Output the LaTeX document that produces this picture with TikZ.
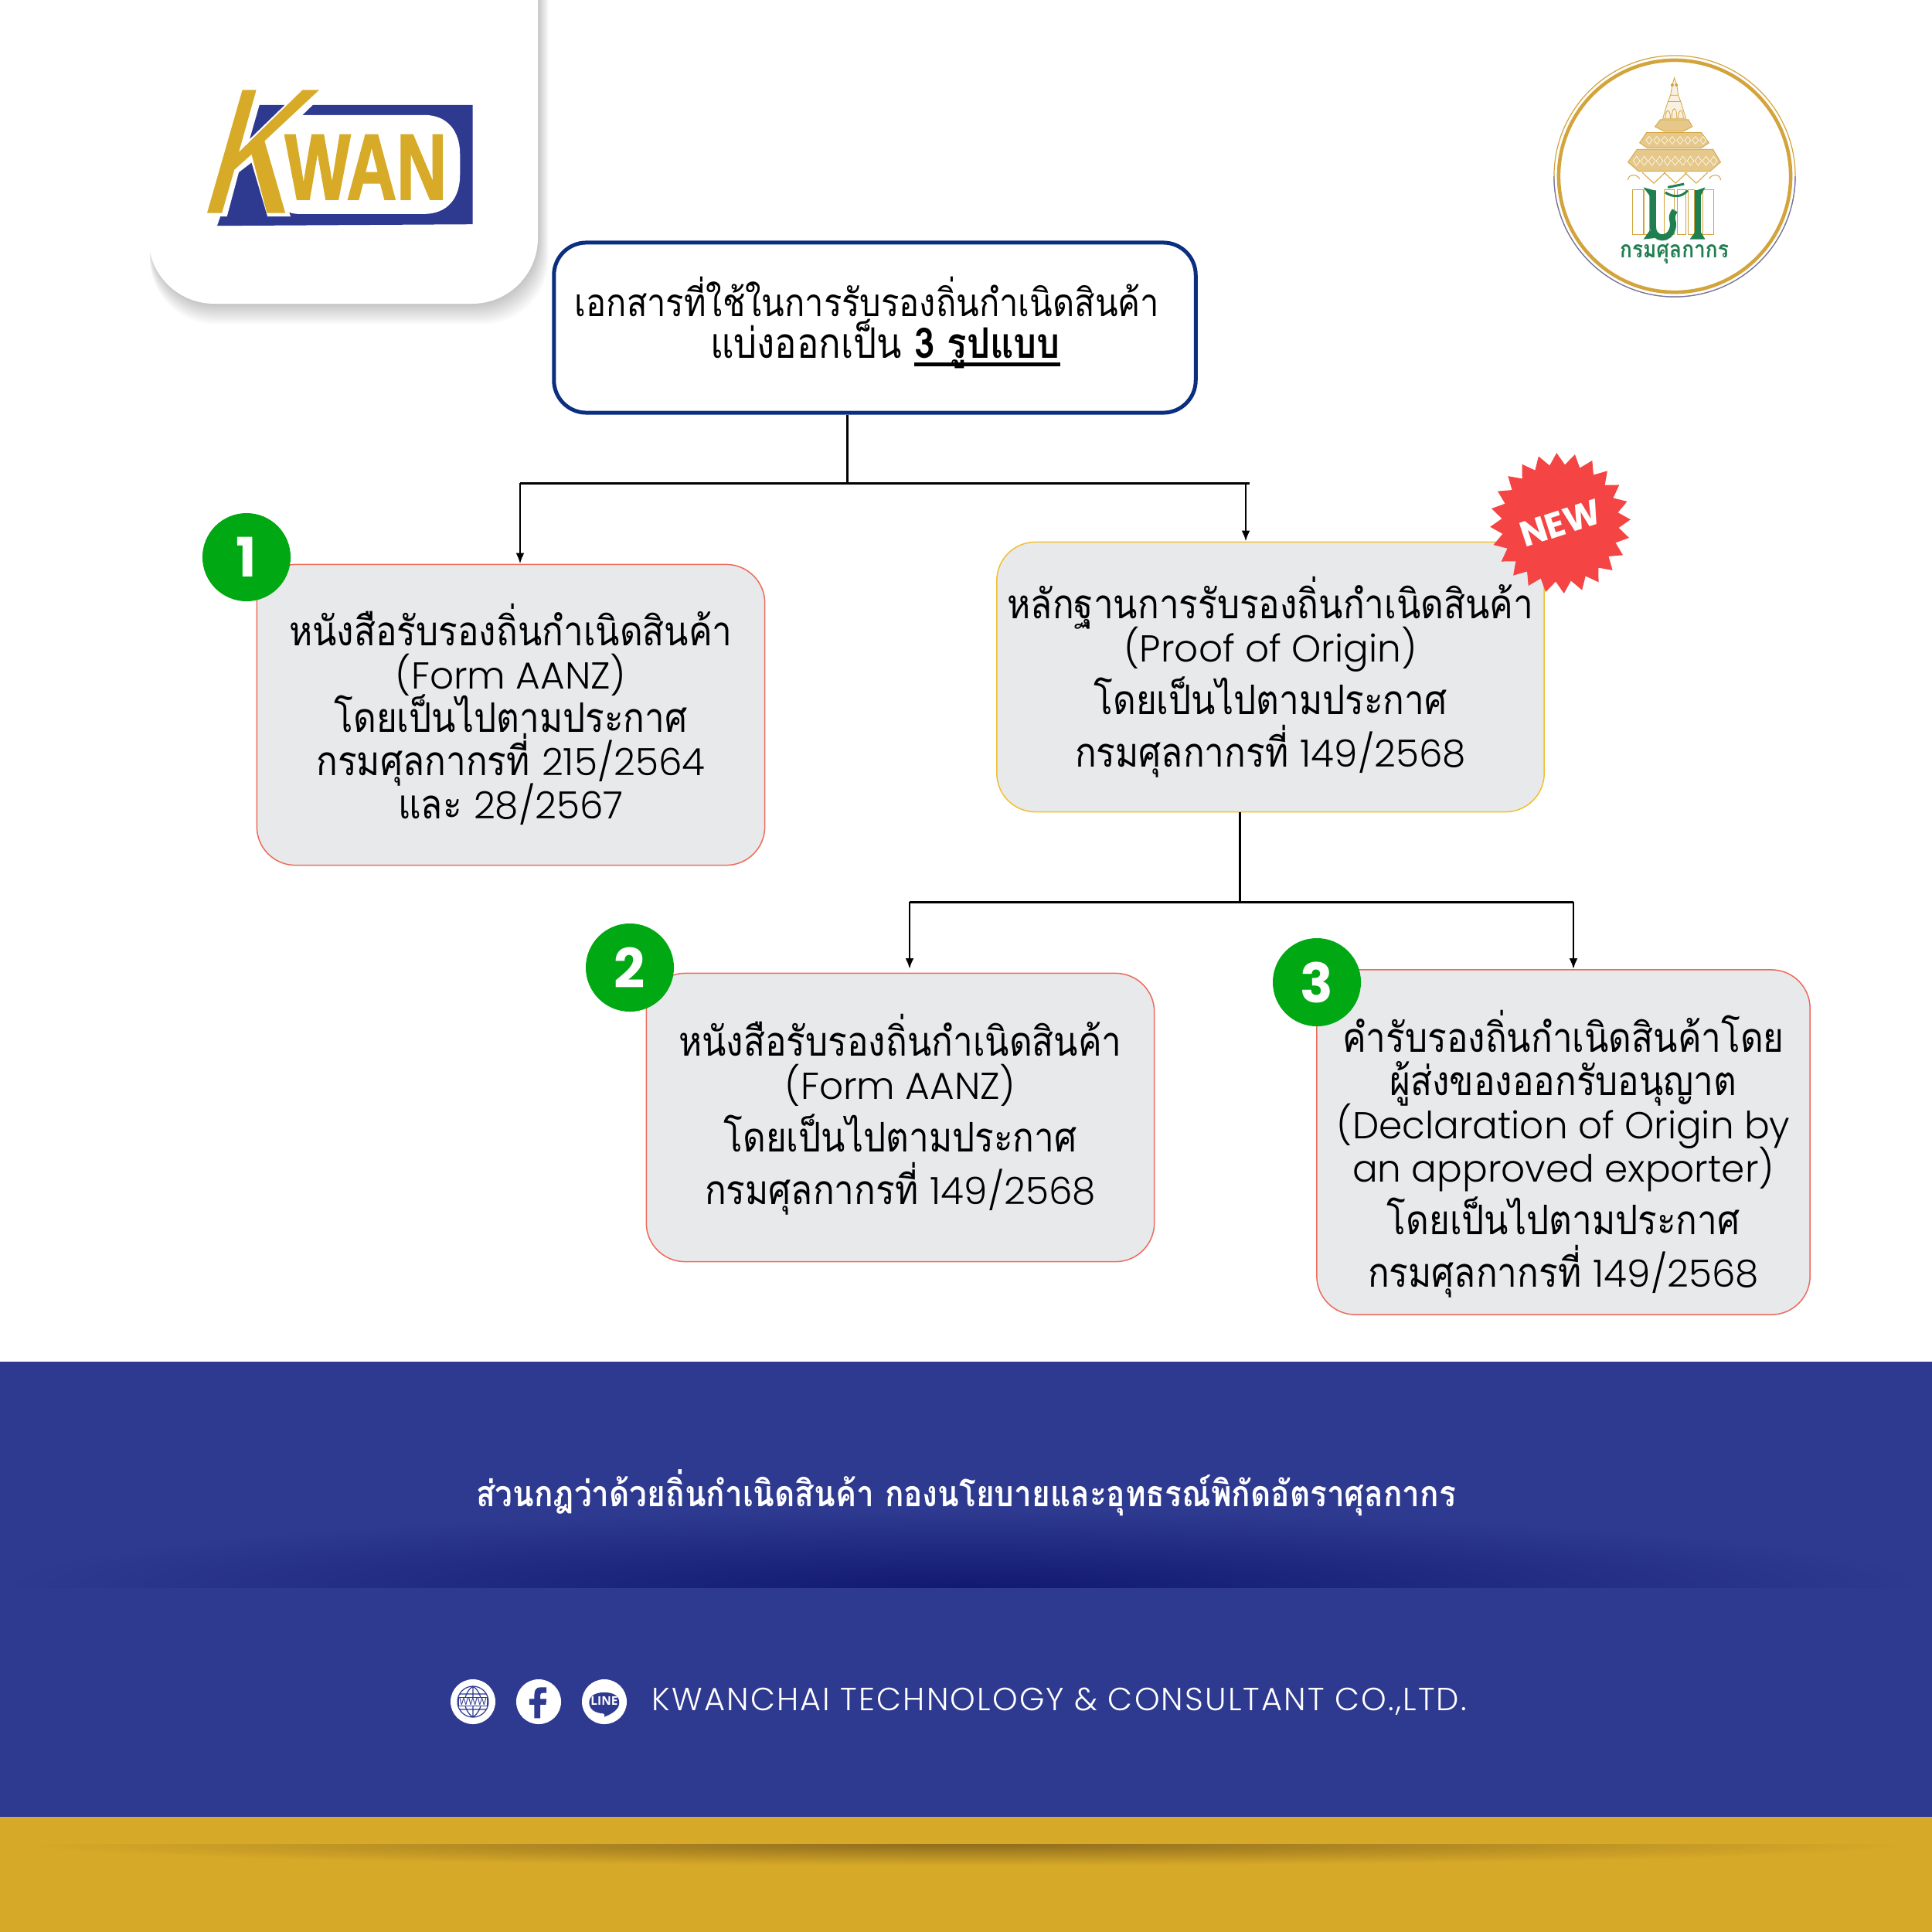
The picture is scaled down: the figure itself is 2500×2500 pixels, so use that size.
\documentclass[tikz,border=0pt]{standalone}
\usepackage{fontspec}
\setmainfont[Script=Thai,FakeStretch=.87]{Loma}
\newfontfamily\latinfont{Open Sans}
\newfontfamily\badgefont{Poppins}
\newfontfamily\engfont{Poppins Light}
\newfontfamily\footfont[LetterSpace=5.2]{Poppins Light}
\newfontfamily\logofont[FakeStretch=.74,FakeBold=1.5]{Liberation Sans}
\usetikzlibrary{arrows.meta,shapes.geometric}
\definecolor{footerblue}{HTML}{2E3990}
\definecolor{footerdark}{HTML}{111A70}
\definecolor{goldband}{HTML}{D7A928}
\definecolor{golddark}{HTML}{8F6C1E}
\definecolor{logogold}{HTML}{D7AB28}
\definecolor{titlenavy}{HTML}{0B2F80}
\definecolor{boxgray}{HTML}{E8E9EB}
\definecolor{boxred}{HTML}{EE6A5C}
\definecolor{boxyellow}{HTML}{F0C030}
\definecolor{numgreen}{HTML}{00A914}
\definecolor{badgered}{HTML}{F44444}
\definecolor{sealgold}{HTML}{D3A33C}
\definecolor{sealgreen}{HTML}{1F7F50}
\newcommand{\boxfont}{\fontsize{15}{15.9}\selectfont\lineskiplimit=-20pt}
\newcommand{\titlefont}{\fontsize{14.2}{15.4}\selectfont\lineskiplimit=-20pt}
\newcommand{\eng}[1]{{\engfont\fontsize{13.8}{15.9}\selectfont #1}}
\newcommand{\titleline}[1]{\setbox0\hbox{#1}\rlap{\rule[-.19em]{\wd0}{.09em}}\box0}
\begin{document}
\begin{tikzpicture}[x=.01cm,y=-.01cm,
  infobox/.style={draw=boxred,line width=.015cm,fill=boxgray,rounded corners=.5cm,align=center,font=\boxfont,inner sep=0pt},
  numdot/.style={circle,fill=numgreen,text=white,minimum size=1.14cm,inner sep=0pt,font=\badgefont\bfseries\fontsize{20}{20}\selectfont},
  mainline/.style={line width=.03cm},
  downline/.style={line width=.028cm,-{Latex[length=.14cm,width=.11cm]}},
  icondot/.style={circle,fill=white,minimum size=.58cm,inner sep=0pt}]
\useasboundingbox (0,0) rectangle (2500,2500);
\fill[white] (0,0) rectangle (2500,2500);
% logo card
\foreach \s in {1,...,14} \fill[black,opacity=.016,rounded corners=.85cm] (194,-150) rectangle ({696+1*\s},{393+1.9*\s});
\fill[white,rounded corners=.85cm] (192,-150) rectangle (696,393);
\begin{scope}[shift={(150,0)},x=.003827cm,y=-.003333cm]
\fill[footerblue] (485,408)--(1205,408)--(1205,872)--(342,878)--cycle;
\fill[white] (375,842)--(415,670)--(458,632)--(512,842)--(590,842)--(585,825) .. controls (600,832) and (610,832) .. (625,832)--(1040,832) .. controls (1120,832) and (1162,770) .. (1162,680)--(1162,600) .. controls (1162,510) and (1120,447) .. (1040,447)--(630,447)--(665,408)--(665,340)--(300,340)--(300,842)--cycle;
\fill[footerblue] (485,408)--(570,408)--(452,540)--cycle;
\fill[logogold] (427,350)--(474,350)--(415,592)--(630,350)--(686,350)--(502,548)--(572,828)--(510,828)--(458,600)--(400,660)--(358,828)--(308,828)--cycle;
\node[text=logogold,font=\logofont\bfseries\fontsize{34.5}{34.5}\selectfont,inner sep=0pt] (logotext) at (844,650) {WAN};
\end{scope}
% seal
\draw[sealgold,line width=.012cm] (2167,228) circle (1.56cm);
\draw[footerblue!70,line width=.012cm] (2323,228) arc[start angle=0,end angle=-180,radius=1.56cm];
\draw[sealgold,line width=.045cm] (2167,228) circle (1.5cm);
\begin{scope}[shift={(2090,90)},x=.003333cm,y=-.003333cm]
\draw[sealgold,line width=.008cm,fill=sealgold!15] (230,32)--(240,60)--(245,100)--(255,125)--(275,190)--(185,190)--(205,125)--(215,100)--(222,60)--cycle;
\draw[sealgold,line width=.008cm] (205,125)--(255,125) (215,100)--(245,100) (195,190) .. controls (195,150) and (215,150) .. (215,190) (220,190) .. controls (220,140) and (240,140) .. (240,190) (245,190) .. controls (245,150) and (265,150) .. (265,190);
\foreach \a/\b in {222/60,238/60} \fill[sealgold] (\a,\b) circle (.02cm);
\draw[sealgold,line width=.008cm,fill=sealgold!60] (155,222)--(175,195)--(285,195)--(300,222)--(265,240)--(190,240)--cycle;
\draw[sealgold,line width=.008cm,fill=sealgold!60] (95,285)--(122,245)--(335,245)--(365,285)--(335,305)--(125,305)--cycle;
\draw[sealgold,line width=.008cm,fill=sealgold!60] (50,360)--(85,310)--(380,310)--(410,360)--(370,395)--(90,395)--cycle;
\foreach \x in {120,150,...,340} \draw[white,line width=.006cm] (\x,275) -- ++(12,15) -- ++(12,-15) -- ++(-12,-15) -- cycle;
\foreach \x in {70,100,...,370} \draw[white,line width=.006cm] (\x,355) -- ++(13,18) -- ++(13,-18) -- ++(-13,-18) -- cycle;
\foreach \x in {105,190,270} \draw[sealgold,line width=.01cm] (\x,400) -- ++(45,42) -- ++(45,-42);
\draw[sealgold,line width=.01cm] (50,430) .. controls (50,405) and (85,405) .. (95,425) (410,430) .. controls (410,405) and (375,405) .. (365,425);
\foreach \x/\w in {68/40,112/22,190/40,240/36,285/22,342/42} \draw[sealgold,line width=.008cm] (\x,468) rectangle ++(\w,172);
\draw[sealgreen,line width=.08cm] (147,470)--(147,610) .. controls (147,665) and (215,670) .. (225,610) .. controls (230,590) and (210,580) .. (232,548);
\draw[sealgreen,line width=.08cm] (322,470)--(322,650);
\draw[sealgreen,line width=.03cm] (195,478) .. controls (230,500) and (260,495) .. (282,470) (205,458)--(268,445);
\fill[sealgreen] (110,458)--(160,472)--(135,492)--cycle (350,458)--(310,472)--(332,492)--cycle (110,660)--(135,625)--(155,655)--cycle (290,660)--(312,630)--(332,630)--(350,660)--cycle;
\node[text=sealgreen,font=\fontsize{8.6}{10}\selectfont\bfseries,inner sep=0pt] (sealname) at (230,716) {กรมศุลกากร};
\end{scope}
% boxes
\node[draw=titlenavy,line width=.05cm,fill=white,rounded corners=.42cm,minimum width=8.3cm,minimum height=2.2cm,align=center,font=\titlefont,inner sep=0pt] (title) at (1132,424) {เอกสารที่ใช้ในการรับรองถิ่นกำเนิดสินค้า\hspace*{.2cm}\\\hspace*{.27cm}{\fontsize{15.5}{15.4}\selectfont แบ่งออกเป็น \titleline{\bfseries 3 รูปแบบ}}\rule[-.26cm]{0pt}{.1cm}};
\node[infobox,minimum width=6.57cm,minimum height=3.89cm] (box1) at (661,925) {หนังสือรับรองถิ่นกำเนิดสินค้า\\\eng{(Form AANZ)}\\โดยเป็นไปตามประกาศ\\กรมศุลกากรที่ \eng{215/2564}\\และ \eng{28/2567}\rule[-.09cm]{0pt}{.1cm}};
\node[infobox,draw=boxyellow,minimum width=7.08cm,minimum height=3.49cm] (boxproof) at (1644,876) {หลักฐานการรับรองถิ่นกำเนิดสินค้า\\\eng{(Proof of Origin)}\\[.12cm]โดยเป็นไปตามประกาศ\\[.12cm]กรมศุลกากรที่ \eng{149/2568}};
\node[infobox,minimum width=6.57cm,minimum height=3.73cm] (box2) at (1165,1446) {หนังสือรับรองถิ่นกำเนิดสินค้า\\\eng{(Form AANZ)}\\[.12cm]โดยเป็นไปตามประกาศ\\[.12cm]กรมศุลกากรที่ \eng{149/2568}\rule[-.21cm]{0pt}{.1cm}};
\node[infobox,minimum width=6.38cm,minimum height=4.46cm] (box3) at (2023,1478) {\rule{0pt}{.85cm}คำรับรองถิ่นกำเนิดสินค้าโดย\\ผู้ส่งของออกรับอนุญาต\\\eng{(Declaration of Origin by}\\\eng{an approved exporter)}\\[.12cm]โดยเป็นไปตามประกาศ\\[.12cm]กรมศุลกากรที่ \eng{149/2568}};
\node[star,star points=24,star point ratio=1.2,minimum size=1.8cm,inner sep=0pt,fill=badgered,text=white,rotate=18,font=\badgefont\bfseries\fontsize{13}{13}\selectfont] (badge) at (2019,677) {NEW};
\node[numdot] (num1) at (319,721) {1};
\node[numdot] (num2) at (815,1252) {2};
\node[numdot] (num3) at (1704,1271) {3};
% connectors
\coordinate (busa) at (1096,625); \coordinate (busb) at (673,625); \coordinate (busc) at (1617,625); \coordinate (busd) at (1612,625);
\coordinate (bare) at (1604,1167); \coordinate (barf) at (1177,1167); \coordinate (barg) at (2036,1167);
\draw[mainline] (busa |- title.south)--(busa); \draw[mainline] (busb)--(busc);
\draw[downline] (busb)--(busb |- box1.north); \draw[downline] (busd)--(busd |- boxproof.north);
\draw[mainline] (bare |- boxproof.south)--(bare); \draw[mainline] (barf)--(barg);
\draw[downline] (barf)--(1177,1254); \draw[downline] (barg)--(barg |- box3.north);
% footer
\fill[footerblue] (0,1762) rectangle (2500,2351);
\begin{scope} \clip (0,1950) rectangle (2500,2054);
\shade[inner color=footerdark,outer color=footerblue] (1250,2054) ellipse (12.5cm and 1cm);
\end{scope}
\fill[goldband] (0,2351) rectangle (2500,2500);
\begin{scope} \clip (0,2386) rectangle (2500,2414);
\shade[inner color=golddark,outer color=goldband] (1250,2386) ellipse (12.2cm and .28cm);
\end{scope}
\node[text=white,font=\fontsize{13.25}{14}\selectfont\bfseries,inner sep=0pt] (unitname) at (1250,1932) {ส่วนกฎว่าด้วยถิ่นกำเนิดสินค้า กองนโยบายและอุทธรณ์พิกัดอัตราศุลกากร};
\node[text=white,font=\footfont\fontsize{11.8}{12}\selectfont,inner sep=0pt,anchor=west] (company) at (843,2202) {KWANCHAI TECHNOLOGY \& CONSULTANT CO.,LTD.};
% icons
\node[icondot] (iconweb) at (612,2202) {};
\node[icondot] (iconfb) at (697,2202) {};
\node[icondot] (iconline) at (782,2202) {};
\draw[footerblue,line width=.012cm] (612,2202) circle (.2cm) (612,2182)--(612,2222) (612,2182) .. controls (598,2192) and (598,2212) .. (612,2222) (612,2182) .. controls (626,2192) and (626,2212) .. (612,2222) (595,2192)--(629,2192) (595,2212)--(629,2212);
\node[fill=white,draw=footerblue,line width=.008cm,text=footerblue,font=\latinfont\fontsize{3.6}{4}\selectfont,inner sep=.3pt] (webtext) at (612,2202) {WWW};
\begin{scope}[shift={(570,2160)},x=.003333cm,y=-.003333cm]
\fill[footerblue] (365,190)--(388,190)--(388,138)--(410,138)--(412,115)--(388,115)--(388,100) .. controls (388,94) and (392,92) .. (398,92)--(412,92)--(412,70)--(388,70) .. controls (372,70) and (365,82) .. (365,98)--(365,115)--(345,115)--(345,138)--(365,138)--cycle;
\fill[footerblue] (637,90) .. controls (675,90) and (695,105) .. (695,130) .. controls (695,155) and (670,172) .. (637,185) .. controls (640,178) and (638,172) .. (632,172) .. controls (600,170) and (578,155) .. (578,130) .. controls (578,105) and (600,90) .. (637,90)--cycle;
\node[text=white,font=\latinfont\bfseries\fontsize{4.4}{5}\selectfont,inner sep=0pt] (linetext) at (637,122) {LINE};
\end{scope}
\end{tikzpicture}
\end{document}
